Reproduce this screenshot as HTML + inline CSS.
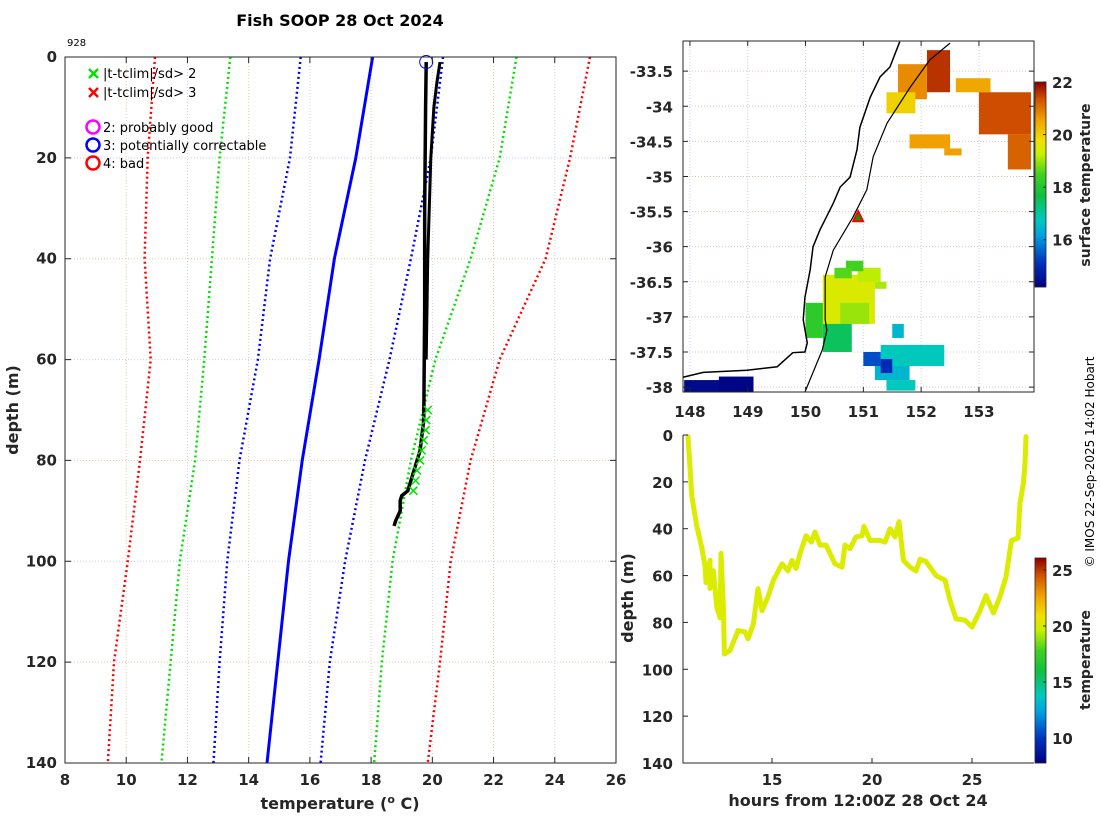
<!DOCTYPE html>
<html><head><meta charset="utf-8"><style>
body{margin:0;background:#fff;}
svg{display:block;font-family:"DejaVu Sans","Liberation Sans",sans-serif;}
.tk{font-size:15px;font-weight:bold;fill:#262626;}
.lb{font-size:16px;font-weight:bold;fill:#262626;}
.lg{font-size:13px;fill:#000;}
</style></head><body>
<svg id="fig" width="1100" height="820" viewBox="0 0 1100 820">
<text x="340" y="26" text-anchor="middle" style="font-size:16px;font-weight:bold">Fish SOOP 28 Oct 2024</text>
<text x="67" y="46" style="font-size:10px">928</text>
<g id="L"></g>
<g id="M"></g>
<g id="T"></g>
<text transform="translate(1094,462) rotate(-90)" text-anchor="middle" style="font-size:12px">© IMOS 22-Sep-2025 14:02 Hobart</text>
</svg>
<script>
// ---------- profile plot data ----------
const climDepths=[0,20,40,60,80,100,120,140];
const redLeft=[10.94,10.7,10.6,10.8,10.45,10.05,9.6,9.4];
const greenLeft=[13.4,13.05,12.8,12.55,12.25,11.75,11.45,11.15];
const blueDotLeft=[15.7,15.35,14.7,14.3,13.7,13.3,13.05,12.85];
const climMean=[18.05,17.5,16.8,16.3,15.75,15.3,14.95,14.6];
const blueDotRight=[20.35,19.95,19.3,18.6,17.8,17.15,16.65,16.35];
const greenRight=[22.75,22.2,21.25,20.1,19.3,18.7,18.35,18.1];
const redRight=[25.15,24.5,23.7,22.2,21.25,20.6,20.25,19.85];
const profDepth=[1,10,30,50,72,78,84,86,87,88,90,92,93];
const profTemp=[19.8,19.78,19.75,19.75,19.72,19.6,19.3,19.2,19.0,18.95,18.95,18.8,18.75];
const prof2Depth=[1,5,10,20,40,60];
const prof2Temp=[20.25,20.15,20.05,19.95,19.85,19.8];
const flagDepth=[70,72,74,76,78,80,82,84,86];
const flagTemp=[19.85,19.8,19.78,19.72,19.65,19.6,19.5,19.45,19.38];
const xTicks=[8,10,12,14,16,18,20,22,24,26];
const yTicks=[0,20,40,60,80,100,120,140];
// ---------- map data ----------
const coastLon=[151.63,151.46,151.29,151.12,150.94,150.89,150.77,150.60,150.48,150.25,150.13,150.08,149.99,149.96,150.03,149.99,149.78,149.51,148.99,148.23,147.88];
const coastLat=[-33.08,-33.44,-33.58,-33.87,-34.30,-34.62,-35.01,-35.15,-35.38,-35.76,-36.00,-36.33,-36.72,-37.04,-37.37,-37.50,-37.51,-37.71,-37.76,-37.79,-37.86];
const shelfLon=[152.50,152.15,151.81,151.41,151.17,151.06,150.82,150.48,150.34,150.34,150.37,150.29,149.99];
const shelfLat=[-33.10,-33.34,-33.73,-34.24,-34.72,-35.19,-35.58,-36.05,-36.43,-37.04,-37.19,-37.47,-38.07];
const sstLon0=[152.1,151.6,151.4,152.6,153.0,153.5,151.8,152.4,150.3,150.9,150.6,150.0,150.3,151.3,151.2,151.4,151.0,151.3,147.9,148.5,150.7,151.2,150.5,151.5];
const sstLon1=[152.5,152.1,151.9,153.2,153.9,153.9,152.5,152.7,151.2,151.3,151.1,150.3,150.8,152.4,151.8,151.9,151.3,151.5,148.6,149.1,151.0,151.4,150.8,151.7];
const sstLat0=[-33.2,-33.4,-33.8,-33.6,-33.8,-34.4,-34.4,-34.6,-36.4,-36.3,-36.8,-36.8,-37.1,-37.4,-37.7,-37.9,-37.5,-37.6,-37.9,-37.85,-36.2,-36.5,-36.3,-37.1];
const sstLat1=[-33.8,-33.9,-34.1,-33.8,-34.4,-34.9,-34.6,-34.7,-37.1,-36.5,-37.1,-37.3,-37.5,-37.7,-37.9,-38.05,-37.7,-37.8,-38.07,-38.07,-36.35,-36.6,-36.45,-37.3];
const sstTemp=[21.6,20.8,20.0,20.5,21.4,21.2,20.6,20.6,19.5,19.2,19.0,18.2,17.5,16.8,16.5,16.8,15.4,15.0,14.4,14.3,18.5,19.1,18.6,16.5];
const vesselLon=[150.91], vesselLat=[-35.58];
const lonTicks=[148,149,150,151,152,153];
const latTicks=[-33.5,-34,-34.5,-35,-35.5,-36,-36.5,-37,-37.5,-38];
const cb1Ticks=[16,18,20,22];
// ---------- time series data ----------
const hours=[10.8,10.99,11.24,11.49,11.65,11.7,11.9,11.9,12.07,12.24,12.4,12.45,12.57,12.62,12.9,13.3,13.65,13.8,14.07,14.3,14.5,14.8,15.07,15.5,15.8,16,16.2,16.4,16.7,16.97,17.15,17.4,17.7,18.15,18.5,18.65,18.9,19.2,19.5,19.6,19.9,20.4,20.65,20.9,21.15,21.35,21.57,21.9,22.2,22.4,22.7,23.2,23.65,23.9,24.2,24.65,25,25.4,25.7,26.07,26.4,26.7,26.97,27.3,27.4,27.57,27.65,27.7];
const depths=[0.7,26,39,48,56,63,53.5,65.5,58,73.5,78,50.5,73.5,93.5,92,83.5,84,87,80.6,65.6,75,69,62,55,58,53.5,57,50.6,43,45.7,41.4,47,47,55,56.4,47,48.5,43.5,43,39,45,45,45.7,40,43.5,37,53.5,56.4,58,53,54,60,62,70.6,78.5,79,82,75,68.5,76,69,60.6,45,44,29,20.6,12,0.7];
const hTicks=[15,20,25];
const dTicks=[0,20,40,60,80,100,120,140];
const cb2Ticks=[10,15,20,25];

const NS='http://www.w3.org/2000/svg';
function mk(tag,at,parent,txt){const e=document.createElementNS(NS,tag);for(const k in at)e.setAttribute(k,at[k]);if(txt!==undefined)e.textContent=txt;parent.appendChild(e);return e;}
const stops=[[0,[0,0,127]],[0.12,[0,48,192]],[0.25,[0,160,224]],[0.33,[0,200,192]],[0.45,[16,192,64]],[0.55,[64,208,32]],[0.65,[200,240,0]],[0.72,[240,224,0]],[0.82,[240,160,0]],[0.92,[208,80,0]],[1,[144,0,0]]];
function cmap(t){t=Math.max(0,Math.min(1,t));for(let i=1;i<stops.length;i++){if(t<=stops[i][0]){const a=stops[i-1],b=stops[i];const f=(t-a[0])/(b[0]-a[0]);const c=a[1].map((v,j)=>Math.round(v+f*(b[1][j]-v)));return `rgb(${c})`;}}return 'rgb(144,0,0)';}

// ===== profile plot =====
const L=document.getElementById('L');
const px=t=>65+(t-8)*(551/18), py=d=>57+d*(706/140);
xTicks.forEach((t,i)=>{const g=mk('line',{x1:px(t),x2:px(t),y1:57,y2:763,stroke:i%2?'#e8c8b0':'#c8d0ec','stroke-dasharray':'1,2'},L);});
yTicks.forEach((d,i)=>{const g=mk('line',{x1:65,x2:616,y1:py(d),y2:py(d),stroke:i%2?'#c8d0ec':'#e8c8b0','stroke-dasharray':'1,2'},L);});
function cline(arr,col,dash,w,name){const e=mk('polyline',{points:arr.map((t,i)=>px(t)+','+py(climDepths[i])).join(' '),fill:'none',stroke:col,'stroke-width':w,'stroke-dasharray':dash},L);}
cline(redLeft,'#ff0000','2,3',2.5,'clim-minus-3sd');
cline(greenLeft,'#00e000','2,3',2.5,'clim-minus-2sd');
cline(blueDotLeft,'#0000ff','2,3',2.5,'clim-minus-1sd');
cline(climMean,'#0000ff','none',3,'clim-mean');
cline(blueDotRight,'#0000ff','2,3',2.5,'clim-plus-1sd');
cline(greenRight,'#00e000','2,3',2.5,'clim-plus-2sd');
cline(redRight,'#ff0000','2,3',2.5,'clim-plus-3sd');
let e=mk('polyline',{points:prof2Temp.map((t,i)=>px(t)+','+py(prof2Depth[i])).join(' '),fill:'none',stroke:'#000','stroke-width':3},L);

e=mk('polyline',{points:profTemp.map((t,i)=>px(t)+','+py(profDepth[i])).join(' '),fill:'none',stroke:'#000','stroke-width':3.5},L);

flagTemp.forEach((t,i)=>{const x=px(t),y=py(flagDepth[i]);const m=mk('path',{d:`M${x-4},${y-4}L${x+4},${y+4}M${x-4},${y+4}L${x+4},${y-4}`,stroke:'#00e000','stroke-width':1.5},L);});
e=mk('circle',{cx:px(profTemp[0]),cy:py(profDepth[0]),r:6.5,fill:'none',stroke:'#0000ff','stroke-width':1},L);

e=mk('rect',{x:65,y:57,width:551,height:706,fill:'none',stroke:'#262626','stroke-width':1},L);

xTicks.forEach(t=>{mk('path',{d:`M${px(t)},763v-6M${px(t)},57v6`,stroke:'#262626'},L);const l=mk('text',{x:px(t),y:785,'text-anchor':'middle',class:'tk'},L,t);});
yTicks.forEach(d=>{mk('path',{d:`M65,${py(d)}h6M616,${py(d)}h-6`,stroke:'#262626'},L);const l=mk('text',{x:57,y:py(d)+5,'text-anchor':'end',class:'tk'},L,d);});
e=mk('text',{x:340,y:809,'text-anchor':'middle',class:'lb'},L);
e.innerHTML='temperature (<tspan dy="-6" style="font-size:11px">o</tspan><tspan dy="6"> C)</tspan>';

e=mk('text',{transform:'translate(18,410) rotate(-90)','text-anchor':'middle',class:'lb'},L,'depth (m)');

// legend
const lg=mk('g',{},L);
[['#00e000','|t-tclim|/sd> 2',74],['#ff0000','|t-tclim|/sd> 3',93]].forEach(a=>{mk('path',{d:`M89,${a[2]-5}l9,9M89,${a[2]+4}l9,-9`,stroke:a[0],'stroke-width':2.5},lg);mk('text',{x:103,y:a[2]+4,class:'lg'},lg,a[1]);});
[['#ff00ff','2: probably good',127],['#0000ff','3: potentially correctable',145],['#ff0000','4: bad',163]].forEach(a=>{mk('circle',{cx:93,cy:a[2],r:6.5,fill:'none',stroke:a[0],'stroke-width':2.5},lg);mk('text',{x:103,y:a[2]+5,class:'lg'},lg,a[1]);});

// ===== map =====
const M=document.getElementById('M');
const mx=l=>683+(l-147.88)*57.8, my=l=>41+(-33.07-l)*70.2;
lonTicks.forEach(l=>mk('line',{x1:mx(l),x2:mx(l),y1:41,y2:392,stroke:'#c8d0ec','stroke-dasharray':'1,2'},M));
latTicks.forEach(l=>mk('line',{x1:683,x2:1034,y1:my(l),y2:my(l),stroke:'#e0c8b8','stroke-dasharray':'1,2'},M));
sstTemp.forEach((t,i)=>{const r=mk('rect',{x:mx(sstLon0[i]),y:my(sstLat0[i]),width:mx(sstLon1[i])-mx(sstLon0[i]),height:my(sstLat1[i])-my(sstLat0[i]),fill:cmap((t-14.2)/7.8)},M);});
e=mk('polyline',{points:coastLon.map((l,i)=>mx(l)+','+my(coastLat[i])).join(' '),fill:'none',stroke:'#000','stroke-width':1.5},M);

e=mk('polyline',{points:shelfLon.map((l,i)=>mx(l)+','+my(shelfLat[i])).join(' '),fill:'none',stroke:'#000','stroke-width':1.2},M);

vesselLon.forEach((l,i)=>{const x=mx(l),y=my(vesselLat[i]);const v=mk('path',{d:`M${x},${y-6}L${x+5},${y+4}L${x-5},${y+4}Z`,fill:'#00a000',stroke:'#ff0000','stroke-width':2},M);});
e=mk('rect',{x:683,y:41,width:351,height:351,fill:'none',stroke:'#262626'},M);

lonTicks.forEach(l=>{mk('path',{d:`M${mx(l)},392v-5M${mx(l)},41v5`,stroke:'#262626'},M);const t=mk('text',{x:mx(l),y:417,'text-anchor':'middle',class:'tk'},M,l);});
latTicks.forEach(l=>{mk('path',{d:`M683,${my(l)}h5M1034,${my(l)}h-5`,stroke:'#262626'},M);const t=mk('text',{x:673,y:my(l)+6,'text-anchor':'end',class:'tk'},M,l);});
// colorbar 1
const c1=v=>287-(v-14.2)*(205/7.8);
for(let y=82;y<287;y++){mk('rect',{x:1035,y:y,width:11,height:1.2,fill:cmap((287-y)/205)},M);}
e=mk('rect',{x:1035,y:82,width:11,height:205,fill:'none',stroke:'#262626','stroke-width':0.8},M);

cb1Ticks.forEach(v=>{mk('path',{d:`M1046,${c1(v)}h-3`,stroke:'#262626'},M);const t=mk('text',{x:1052,y:c1(v)+6,class:'tk'},M,v);});
e=mk('text',{transform:'translate(1090,185) rotate(-90)','text-anchor':'middle',class:'lb',style:'font-size:14px'},M,'surface temperature');


// ===== time series =====
const T=document.getElementById('T');
const tx=h=>772+(h-15)*20, ty=d=>435+d*(328/140);
e=mk('polyline',{points:hours.map((h,i)=>tx(h)+','+ty(depths[i])).join(' '),fill:'none',stroke:'#dcec00','stroke-width':5,'stroke-linejoin':'round','stroke-linecap':'round'},T);

mk('path',{d:'M683,435V763H1034',fill:'none',stroke:'#262626'},T);
hTicks.forEach(h=>{mk('path',{d:`M${tx(h)},763v-5`,stroke:'#262626'},T);const t=mk('text',{x:tx(h),y:785,'text-anchor':'middle',class:'tk'},T,h);});
dTicks.forEach(d=>{mk('path',{d:`M683,${ty(d)}h5`,stroke:'#262626'},T);const t=mk('text',{x:673,y:ty(d)+6,'text-anchor':'end',class:'tk'},T,d);});
e=mk('text',{x:858,y:806,'text-anchor':'middle',class:'lb'},T,'hours from 12:00Z 28 Oct 24');

e=mk('text',{transform:'translate(633,598) rotate(-90)','text-anchor':'middle',class:'lb'},T,'depth (m)');

const c2=v=>763-(v-7.77)*(205/18.3);
for(let y=558;y<763;y++){mk('rect',{x:1035,y:y,width:11,height:1.2,fill:cmap((763-y)/205)},T);}
e=mk('rect',{x:1035,y:558,width:11,height:205,fill:'none',stroke:'#262626','stroke-width':0.8},T);

cb2Ticks.forEach(v=>{mk('path',{d:`M1046,${c2(v)}h-3`,stroke:'#262626'},T);const t=mk('text',{x:1052,y:c2(v)+6,class:'tk'},T,v);});
e=mk('text',{transform:'translate(1090,660) rotate(-90)','text-anchor':'middle',class:'lb',style:'font-size:14px'},T,'temperature');

</script>
</body></html>
